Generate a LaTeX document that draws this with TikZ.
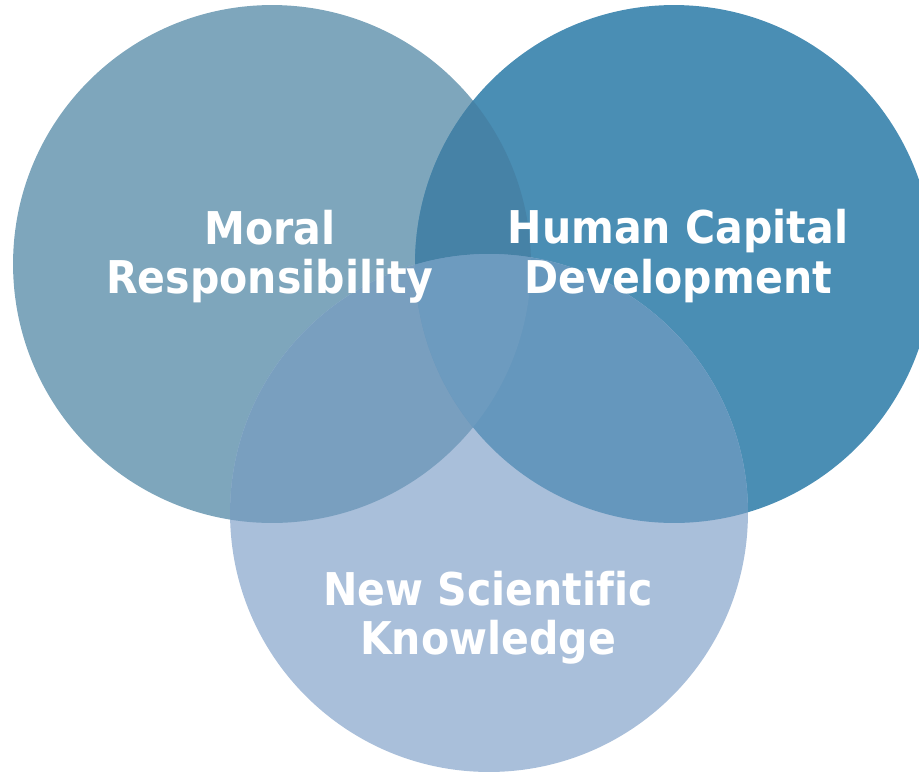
\documentclass[tikz,border=0pt]{standalone}
\usepackage{fontspec}
\setmainfont{DejaVu Sans}[FakeStretch=0.91, Ligatures=CommonOff]
\definecolor{moralc}{HTML}{7EA6BC}
\definecolor{humanc}{HTML}{4A8EB4}
\definecolor{sciencec}{HTML}{A9BFDA}
\definecolor{moralhuman}{HTML}{4682A6}
\definecolor{moralscience}{HTML}{799FBF}
\definecolor{humanscience}{HTML}{6597BD}
\definecolor{allthree}{HTML}{6D9BBF}

\begin{document}
\begin{tikzpicture}[x=0.02cm, y=-0.02cm,
    ring/.style={circle, minimum size=10.36cm, inner sep=0pt, draw=none},
    caption/.style={text=white, align=center,
      font=\bfseries\fontsize{25.7}{28.1}\selectfont}]
  \useasboundingbox (0,0) rectangle (919,775);

  % Define the circles
  \node[ring, fill=moralc]   (moral)   at (272,264) {};
  \node[ring, fill=humanc]   (human)   at (674,264) {};
  \node[ring, fill=sciencec] (science) at (489,513) {};

  % Shade the overlaps
  \begin{scope}
    \clip (moral.center) circle[radius=5.18cm];
    \fill[moralhuman] (human.center) circle[radius=5.18cm];
  \end{scope}
  \begin{scope}
    \clip (moral.center) circle[radius=5.18cm];
    \fill[moralscience] (science.center) circle[radius=5.18cm];
  \end{scope}
  \begin{scope}
    \clip (human.center) circle[radius=5.18cm];
    \fill[humanscience] (science.center) circle[radius=5.18cm];
  \end{scope}
  \begin{scope}
    \clip (moral.center) circle[radius=5.18cm];
    \clip (human.center) circle[radius=5.18cm];
    \fill[allthree] (science.center) circle[radius=5.18cm];
  \end{scope}

  % Labels
  \node[caption] (moraltext)   at (270,257) {Moral\\Responsibility};
  \node[caption] (humantext)   at (678,256) {Human Capital\\Development};
  \node[caption] (sciencetext) at (488,618) {New Scientific\\Knowledge};
\end{tikzpicture}
\end{document}
